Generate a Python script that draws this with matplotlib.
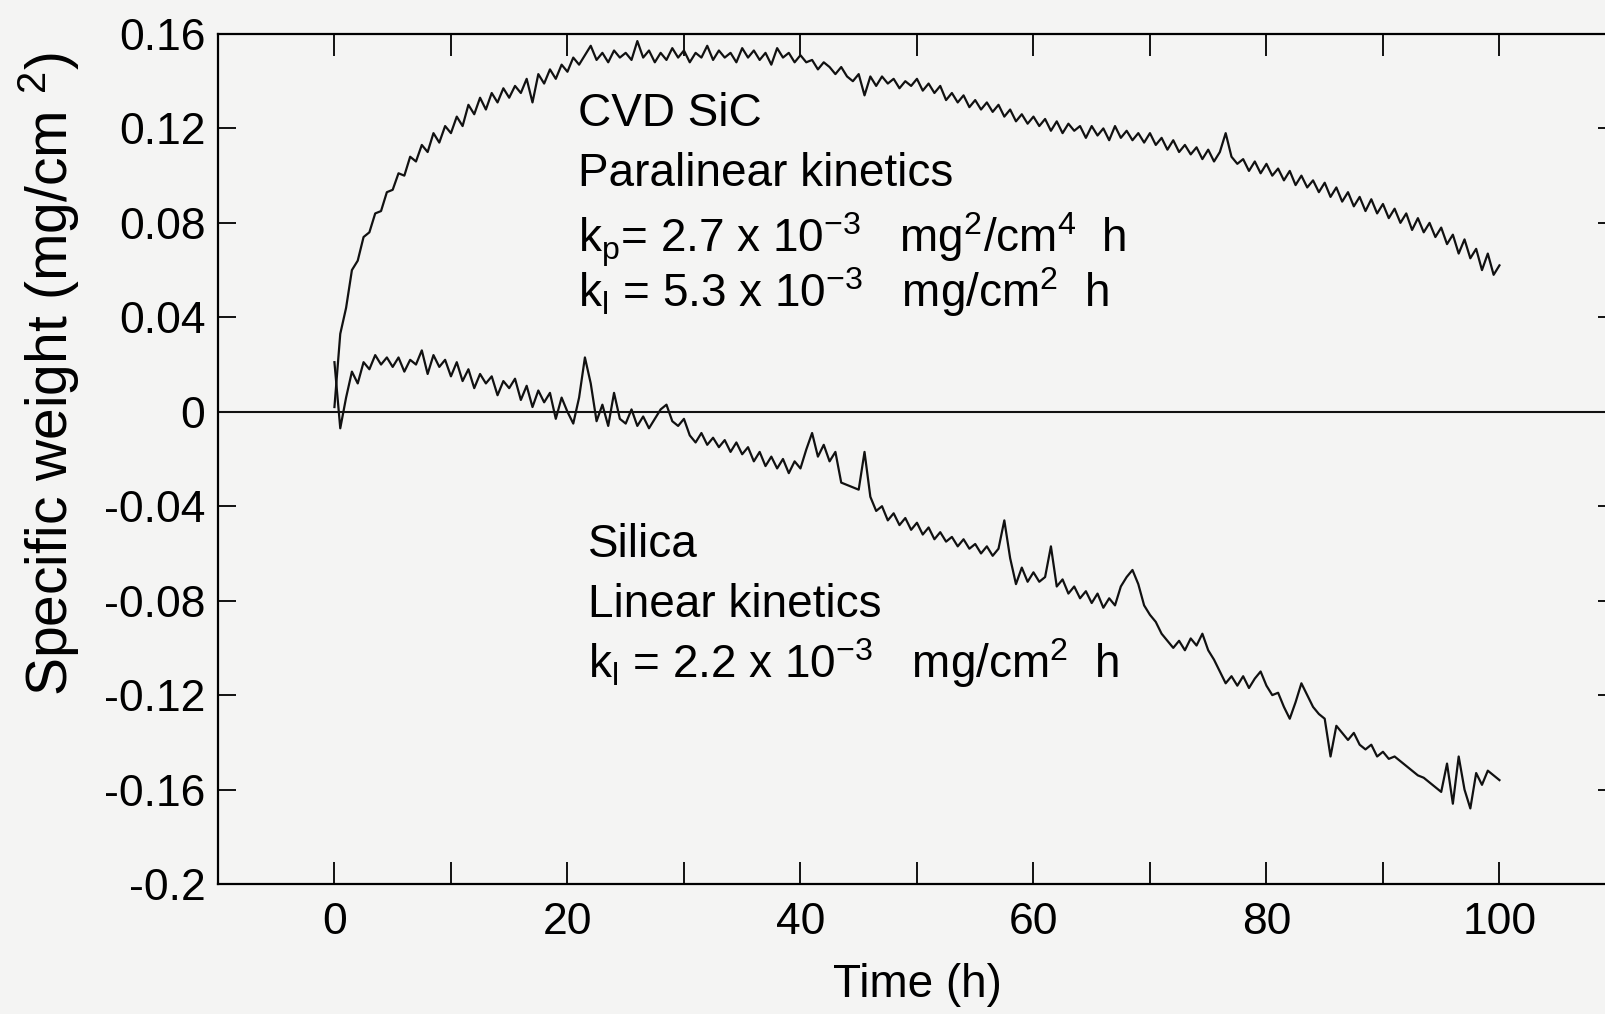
import matplotlib
matplotlib.use('Agg')
import matplotlib.pyplot as plt
import numpy as np

# readings every 0.5 h, 0..100 h
hours = np.arange(0, 100.5, 0.5)

sic = [
    0.002, 0.033, 0.044, 0.060, 0.064, 0.074, 0.076, 0.084, 0.085, 0.093,
    0.094, 0.101, 0.100, 0.108, 0.106, 0.113, 0.110, 0.118, 0.114, 0.121,
    0.118, 0.125, 0.121, 0.130, 0.126, 0.133, 0.128, 0.135, 0.131, 0.137,
    0.133, 0.138, 0.135, 0.141, 0.131, 0.143, 0.139, 0.145, 0.141, 0.147,
    0.144, 0.150, 0.147, 0.151, 0.155, 0.149, 0.152, 0.148, 0.153, 0.150,
    0.152, 0.149, 0.157, 0.150, 0.153, 0.148, 0.152, 0.149, 0.154, 0.150,
    0.153, 0.148, 0.152, 0.150, 0.155, 0.149, 0.153, 0.150, 0.152, 0.148,
    0.154, 0.150, 0.153, 0.149, 0.152, 0.147, 0.154, 0.150, 0.152, 0.148,
    0.151, 0.148, 0.149, 0.145, 0.148, 0.146, 0.143, 0.146, 0.142, 0.140,
    0.143, 0.134, 0.142, 0.138, 0.142, 0.139, 0.141, 0.137, 0.140, 0.138,
    0.141, 0.136, 0.139, 0.135, 0.138, 0.132, 0.135, 0.131, 0.134, 0.129,
    0.132, 0.128, 0.131, 0.127, 0.130, 0.125, 0.128, 0.123, 0.126, 0.122,
    0.125, 0.121, 0.124, 0.119, 0.123, 0.118, 0.122, 0.119, 0.121, 0.116,
    0.121, 0.117, 0.120, 0.115, 0.121, 0.116, 0.119, 0.115, 0.118, 0.114,
    0.118, 0.113, 0.116, 0.111, 0.115, 0.110, 0.113, 0.109, 0.112, 0.107,
    0.111, 0.106, 0.110, 0.118, 0.108, 0.105, 0.107, 0.102, 0.106, 0.101,
    0.105, 0.100, 0.103, 0.098, 0.102, 0.096, 0.100, 0.095, 0.098, 0.093,
    0.097, 0.091, 0.095, 0.089, 0.093, 0.087, 0.091, 0.085, 0.090, 0.084,
    0.088, 0.082, 0.086, 0.080, 0.084, 0.077, 0.082, 0.076, 0.080, 0.074,
    0.078, 0.071, 0.075, 0.067, 0.073, 0.065, 0.069, 0.060, 0.067, 0.058,
    0.062,
]

silica = [
    0.021, -0.007, 0.006, 0.017, 0.012, 0.021, 0.018, 0.024, 0.020, 0.023,
    0.019, 0.023, 0.017, 0.022, 0.020, 0.026, 0.016, 0.024, 0.019, 0.022,
    0.015, 0.021, 0.013, 0.018, 0.010, 0.016, 0.012, 0.015, 0.007, 0.013,
    0.010, 0.014, 0.005, 0.011, 0.002, 0.009, 0.004, 0.008, -0.003, 0.006,
    0.000, -0.005, 0.006, 0.023, 0.012, -0.004, 0.003, -0.006, 0.008, -0.003,
    -0.005, 0.001, -0.006, -0.002, -0.007, -0.003, 0.001, 0.003, -0.004, -0.006,
    -0.003, -0.010, -0.013, -0.009, -0.014, -0.011, -0.015, -0.012, -0.017, -0.013,
    -0.018, -0.015, -0.021, -0.017, -0.023, -0.019, -0.024, -0.020, -0.026, -0.021,
    -0.024, -0.016, -0.009, -0.019, -0.014, -0.021, -0.017, -0.030, -0.031, -0.032,
    -0.033, -0.017, -0.036, -0.042, -0.040, -0.046, -0.043, -0.048, -0.045, -0.050,
    -0.047, -0.052, -0.049, -0.054, -0.051, -0.055, -0.053, -0.057, -0.054, -0.058,
    -0.056, -0.060, -0.057, -0.061, -0.058, -0.046, -0.062, -0.073, -0.066, -0.072,
    -0.068, -0.072, -0.070, -0.057, -0.074, -0.071, -0.077, -0.074, -0.079, -0.076,
    -0.081, -0.077, -0.083, -0.079, -0.082, -0.074, -0.070, -0.067, -0.073, -0.082,
    -0.086, -0.089, -0.094, -0.097, -0.100, -0.097, -0.101, -0.096, -0.099, -0.094,
    -0.101, -0.105, -0.110, -0.115, -0.112, -0.116, -0.112, -0.117, -0.113, -0.110,
    -0.116, -0.120, -0.119, -0.125, -0.130, -0.123, -0.115, -0.120, -0.125, -0.128,
    -0.130, -0.146, -0.133, -0.136, -0.139, -0.136, -0.141, -0.143, -0.141, -0.146,
    -0.144, -0.147, -0.146, -0.148, -0.150, -0.152, -0.154, -0.155, -0.157, -0.159,
    -0.161, -0.149, -0.166, -0.146, -0.160, -0.168, -0.153, -0.158, -0.152, -0.154,
    -0.156,
]

xlabeled = [0, 20, 40, 60, 80, 100]
xminor = [10, 30, 50, 70, 90]
yticks = [-0.2, -0.16, -0.12, -0.08, -0.04, 0, 0.04, 0.08, 0.12, 0.16]
ylabels = ['-0.2', '-0.16', '-0.12', '-0.08', '-0.04', '0', '0.04', '0.08', '0.12', '0.16']

plt.rcParams['font.family'] = ['Liberation Sans', 'DejaVu Sans']
plt.rcParams['mathtext.fontset'] = 'custom'
plt.rcParams['mathtext.rm'] = 'Liberation Sans'
plt.rcParams['mathtext.it'] = 'Liberation Sans'
plt.rcParams['mathtext.default'] = 'regular'

paper = '#f4f4f3'
ink = '#111111'
fs = 32

fig = plt.figure(figsize=(16.06, 10.14), dpi=100, facecolor=paper)
ax = fig.add_axes([0.1357, 0.1282, 0.8705, 0.8383])
ax.set_facecolor(paper)

ax.plot(hours, sic, color=ink, lw=1.6)
ax.plot(hours, silica, color=ink, lw=1.6)
ax.axhline(0, color=ink, lw=1.5)

ax.set_xlim(-10, 110)
ax.set_ylim(-0.2, 0.16)

ax.set_xticks(xlabeled)
ax.set_xticks(xminor, minor=True)
ax.set_yticks(yticks)
ax.set_yticklabels(ylabels)
ax.tick_params(axis='x', which='both', direction='in', length=16, width=1.3,
               top=True, pad=13, labelsize=fs)
ax.tick_params(axis='y', which='both', direction='in', length=13, width=1.3,
               right=True, pad=9, labelsize=fs)
for s in ax.spines.values():
    s.set_linewidth(1.6)

ax.set_xlabel('Time (h)', fontsize=fs + 1, labelpad=14)
fig.text(49 / 1606, 1 - 374 / 1014, 'Specific weight (mg/cm $^{2}$)',
         rotation=90, ha='center', va='center', fontsize=41)

ax.text(20.9, 0.121, 'CVD SiC', fontsize=fs + 1, va='baseline')
ax.text(20.9, 0.0957, 'Paralinear kinetics', fontsize=fs + 1, va='baseline')
ax.text(20.9, 0.0675, 'k$_{p}$= 2.7 x 10$^{-3}$   mg$^{2}$/cm$^{4}$  h',
        fontsize=fs + 1, va='baseline')
ax.text(20.9, 0.0444, 'k$_{l}$ = 5.3 x 10$^{-3}$   mg/cm$^{2}$  h',
        fontsize=fs + 1, va='baseline')

ax.text(21.8, -0.0616, 'Silica', fontsize=fs + 1, va='baseline')
ax.text(21.8, -0.0868, 'Linear kinetics', fontsize=fs + 1, va='baseline')
ax.text(21.8, -0.1128, 'k$_{l}$ = 2.2 x 10$^{-3}$   mg/cm$^{2}$  h',
        fontsize=fs + 1, va='baseline')

fig.savefig('out.png', dpi=100, facecolor=paper)
